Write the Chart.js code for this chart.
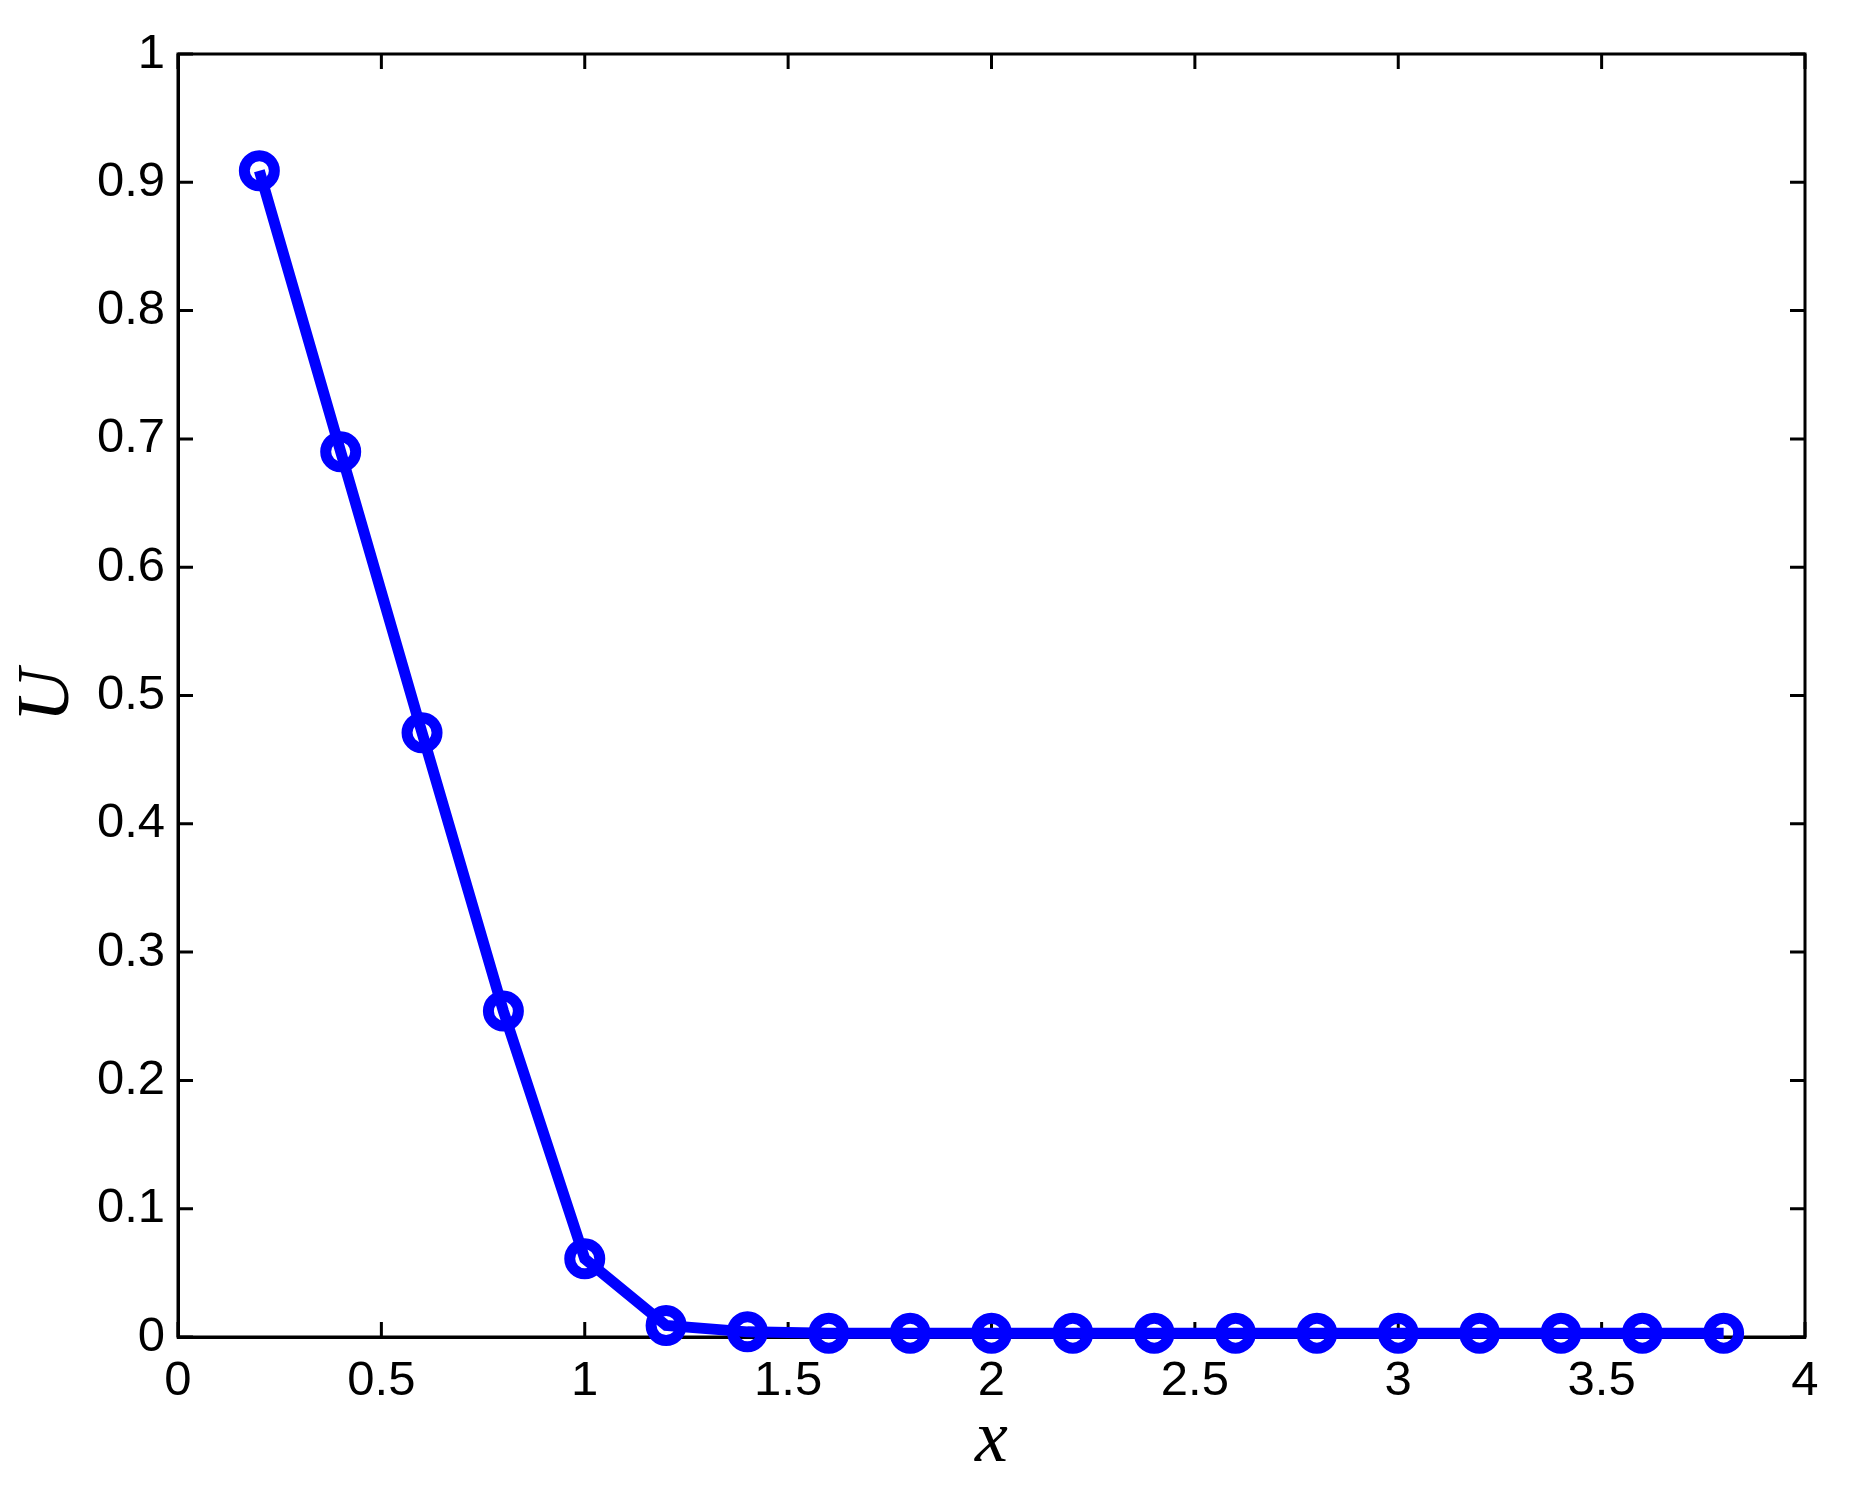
<!DOCTYPE html>
<html>
<head>
<meta charset="utf-8">
<script src="https://cdn.jsdelivr.net/npm/chart.js@4/dist/chart.umd.min.js"></script>
<style>
html,body{margin:0;padding:0;background:#fff;}
#wrap{width:1855px;height:1491px;}
</style>
</head>
<body>
<div id="wrap"><canvas id="c" width="1855" height="1491"></canvas></div>
<script>
const xValues = [0.2,0.4,0.6,0.8,1.0,1.2,1.4,1.6,1.8,2.0,2.2,2.4,2.6,2.8,3.0,3.2,3.4,3.6,3.8];
const uValues = [0.909,0.690,0.471,0.254,0.061,0.009,0.004,0.003,0.003,0.003,0.003,0.003,0.003,0.003,0.003,0.003,0.003,0.003,0.003];
const xTicks = [0,0.5,1,1.5,2,2.5,3,3.5,4];
const yTicks = [0,0.1,0.2,0.3,0.4,0.5,0.6,0.7,0.8,0.9,1];

const points = xValues.map((x,i)=>({x:x,y:uValues[i]}));

const boxPlugin = {
  id:'box',
  beforeDatasetsDraw(chart){
    const ctx = chart.ctx, a = chart.chartArea;
    const xs = chart.scales.x, ys = chart.scales.y;
    const L = 15;
    ctx.save();
    ctx.strokeStyle = '#000';
    ctx.lineWidth = 3;
    ctx.beginPath();
    xTicks.forEach(v=>{
      const px = xs.getPixelForValue(v);
      ctx.moveTo(px, a.bottom); ctx.lineTo(px, a.bottom - L);
      ctx.moveTo(px, a.top); ctx.lineTo(px, a.top + L);
    });
    yTicks.forEach(v=>{
      const py = ys.getPixelForValue(v);
      ctx.moveTo(a.left, py); ctx.lineTo(a.left + L, py);
      ctx.moveTo(a.right, py); ctx.lineTo(a.right - L, py);
    });
    ctx.stroke();
    ctx.lineWidth = 3;
    ctx.strokeRect(a.left, a.top, a.right - a.left, a.bottom - a.top);
    ctx.restore();
  }
};

new Chart(document.getElementById('c'), {
  type:'scatter',
  data:{datasets:[{
    data:points,
    showLine:true,
    borderColor:'#0000ff',
    borderWidth:11,
    tension:0,
    pointRadius:15,
    pointHoverRadius:15,
    pointBorderWidth:11,
    pointBorderColor:'#0000ff',
    pointBackgroundColor:'rgba(0,0,0,0)',
    clip:false
  }]},
  options:{
    responsive:false,
    animation:false,
    events:[],
    layout:{padding:{left:0,top:54,right:50,bottom:0}},
    plugins:{legend:{display:false},tooltip:{enabled:false}},
    scales:{
      x:{
        type:'linear', min:0, max:4,
        afterBuildTicks(s){ s.ticks = xTicks.map(v=>({value:v})); },
        afterFit(s){ s.height = 154; },
        grid:{display:true, drawOnChartArea:false, drawTicks:false},
        border:{display:true, color:'#000', width:3},
        ticks:{
          color:'#000', padding:15, maxRotation:0, autoSkip:false,
          font:{family:'"Liberation Sans", Arial, Helvetica, sans-serif', size:49},
          callback:(v)=>String(v)
        },
        title:{display:true, text:'x', color:'#000', padding:{top:0,bottom:5},
          font:{family:'"Liberation Serif", "DejaVu Serif", serif', size:74, style:'italic'}}
      },
      y:{
        type:'linear', min:0, max:1,
        afterBuildTicks(s){ s.ticks = yTicks.map(v=>({value:v})); },
        afterFit(s){ s.width = 178; },
        grid:{display:true, drawOnChartArea:false, drawTicks:false},
        border:{display:true, color:'#000', width:3},
        ticks:{
          color:'#000', padding:13, autoSkip:false,
          font:{family:'"Liberation Sans", Arial, Helvetica, sans-serif', size:49},
          callback:(v)=>String(Math.round(v*10)/10)
        },
        title:{display:true, text:'U', color:'#000', padding:{top:4,bottom:0},
          font:{family:'"Liberation Serif", "DejaVu Serif", serif', size:74, style:'italic'}}
      }
    }
  },
  plugins:[boxPlugin]
});
</script>
</body>
</html>
